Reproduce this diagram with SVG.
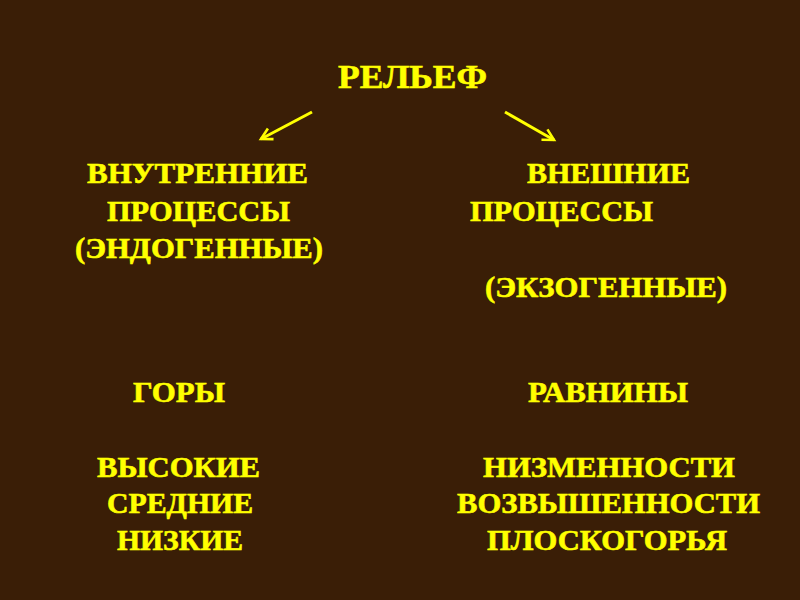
<svg xmlns="http://www.w3.org/2000/svg" width="800" height="600" viewBox="0 0 800 600">
  <style>
    .t { font-family: "Liberation Serif", "Times New Roman", serif; font-weight: bold; font-size: 29px; fill: #ffff00; stroke: #ffff00; stroke-width: 0.6px; }
    .title { font-size: 34px; }
    .conn { stroke: #ffff00; stroke-width: 3; fill: none; }
  </style>
  <defs>
    <marker id="vhead" markerUnits="userSpaceOnUse" markerWidth="16" markerHeight="16" refX="12" refY="7" orient="auto" viewBox="0 0 16 14">
      <path d="M1,1 L12,7 L1,13" fill="none" stroke="#ffff00" stroke-width="2.6"/>
    </marker>
  </defs>
  <rect x="0" y="0" width="800" height="600" fill="#3a1e06"/>

  <g id="relief">
    <text class="t title" x="338" y="88" textLength="149" lengthAdjust="spacingAndGlyphs">РЕЛЬЕФ</text>
  </g>

  <g id="connectors">
    <line class="conn" x1="312" y1="112" x2="261" y2="139" marker-end="url(#vhead)"/>
    <line class="conn" x1="505" y1="112" x2="554" y2="140" marker-end="url(#vhead)"/>
  </g>

  <g id="endogenous">
    <text class="t" x="87" y="183" textLength="221" lengthAdjust="spacingAndGlyphs">ВНУТРЕННИЕ</text>
    <text class="t" x="107" y="221" textLength="183" lengthAdjust="spacingAndGlyphs">ПРОЦЕССЫ</text>
    <text class="t" x="75" y="258" textLength="248" lengthAdjust="spacingAndGlyphs">(ЭНДОГЕННЫЕ)</text>
  </g>

  <g id="exogenous">
    <text class="t" x="527" y="183" textLength="163" lengthAdjust="spacingAndGlyphs">ВНЕШНИЕ</text>
    <text class="t" x="470" y="221" textLength="183" lengthAdjust="spacingAndGlyphs">ПРОЦЕССЫ</text>
    <text class="t" x="485" y="297" textLength="242" lengthAdjust="spacingAndGlyphs">(ЭКЗОГЕННЫЕ)</text>
  </g>

  <g id="mountains">
    <text class="t" x="133" y="402" textLength="92" lengthAdjust="spacingAndGlyphs">ГОРЫ</text>
    <text class="t" x="97" y="477" textLength="163" lengthAdjust="spacingAndGlyphs">ВЫСОКИЕ</text>
    <text class="t" x="107" y="513" textLength="146" lengthAdjust="spacingAndGlyphs">СРЕДНИЕ</text>
    <text class="t" x="117" y="550" textLength="126" lengthAdjust="spacingAndGlyphs">НИЗКИЕ</text>
  </g>

  <g id="plains">
    <text class="t" x="528" y="402" textLength="160" lengthAdjust="spacingAndGlyphs">РАВНИНЫ</text>
    <text class="t" x="483" y="477" textLength="252" lengthAdjust="spacingAndGlyphs">НИЗМЕННОСТИ</text>
    <text class="t" x="457" y="513" textLength="303" lengthAdjust="spacingAndGlyphs">ВОЗВЫШЕННОСТИ</text>
    <text class="t" x="487" y="550" textLength="240" lengthAdjust="spacingAndGlyphs">ПЛОСКОГОРЬЯ</text>
  </g>
</svg>
